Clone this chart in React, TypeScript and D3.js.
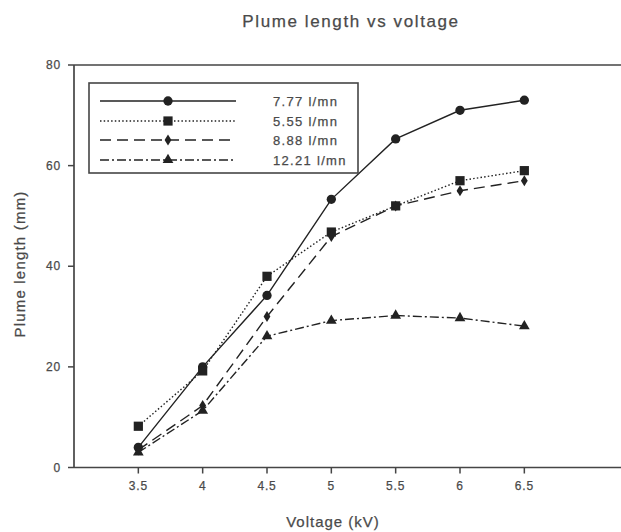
import React from "react";
import * as d3 from "d3";

// Voltage (kV) on the x axis
const voltages = [3.5, 4, 4.5, 5, 5.5, 6, 6.5];

// Plume length (mm) for each gas flow rate
const flow777 = [4, 20, 34.2, 53.3, 65.3, 71, 73];
const flow555 = [8.2, 19.2, 38, 46.8, 52, 57, 59];
const flow888 = [3.5, 12.3, 30, 45.9, 52, 55, 57];
const flow1221 = [3, 11.3, 26.1, 29.2, 30.2, 29.7, 28.1];

const seriesNames = ["7.77 l/mn", "5.55 l/mn", "8.88 l/mn", "12.21 l/mn"];
const xTicks = [3.5, 4, 4.5, 5, 5.5, 6, 6.5];
const yTicks = [0, 20, 40, 60, 80];

const W = 621;
const H = 532;

const x = d3.scaleLinear().domain([3, 7.5]).range([74, 653]);
const y = d3.scaleLinear().domain([0, 80]).range([467.5, 65]);

const AXIS = "#454545";
const TEXT = "#4a4a4a";
const INK = "#222";
const FONT = "'Liberation Sans', Arial, sans-serif";

type Marker = "circle" | "square" | "diamond" | "triangle";

const series: { name: string; values: number[]; dash: string; marker: Marker }[] = [
  { name: seriesNames[0], values: flow777, dash: "none", marker: "circle" },
  { name: seriesNames[1], values: flow555, dash: "1.5 2.2", marker: "square" },
  { name: seriesNames[2], values: flow888, dash: "11 6", marker: "diamond" },
  { name: seriesNames[3], values: flow1221, dash: "9 3 2 3", marker: "triangle" },
];

const symbolPath: Record<Marker, string> = {
  circle: d3.symbol(d3.symbolCircle, 68)()!,
  square: d3.symbol(d3.symbolSquare, 85)()!,
  diamond: "M0,-5.5L3.4,0L0,5.5L-3.4,0Z",
  triangle: d3.symbol(d3.symbolTriangle, 50)()!,
};

function MarkerShape({ kind, cx, cy }: { kind: Marker; cx: number; cy: number }) {
  return <path d={symbolPath[kind]} transform={`translate(${cx},${cy})`} fill={INK} />;
}

const textStyle = { stroke: TEXT, strokeWidth: 0.25 };

export default function App() {
  const line = d3
    .line<number>()
    .x((_, i) => x(voltages[i]))
    .y((v) => y(v));

  const legendRows = [101, 121, 140, 160];

  return (
    <div style={{ position: "fixed", left: 0, top: 0 }}>
      <svg width={W} height={H} style={{ display: "block", background: "#fff" }} fontFamily={FONT}>
        <text x={351} y={27} textAnchor="middle" fontSize={17} letterSpacing={1.6} fill={TEXT} style={textStyle}>
          Plume length vs voltage
        </text>

        {/* frame: left, bottom and top lines */}
        <line x1={x(3)} x2={x(3)} y1={y(80)} y2={y(0)} stroke={AXIS} strokeWidth={1.7} />
        <line x1={x(3)} x2={W} y1={y(0)} y2={y(0)} stroke={AXIS} strokeWidth={1.7} />
        <line x1={x(3)} x2={W} y1={y(80)} y2={y(80)} stroke={AXIS} strokeWidth={1.7} />

        {yTicks.map((t) => (
          <g key={t}>
            <line x1={x(3) - 6} x2={x(3)} y1={y(t)} y2={y(t)} stroke={AXIS} strokeWidth={1.5} />
            <text x={x(3) - 13} y={y(t)} dy="0.35em" textAnchor="end" fontSize={12} letterSpacing={0.8} fill={TEXT} style={textStyle}>
              {t}
            </text>
          </g>
        ))}

        {xTicks.map((t) => (
          <g key={t}>
            <line x1={x(t)} x2={x(t)} y1={y(0)} y2={y(0) + 6} stroke={AXIS} strokeWidth={1.5} />
            <text x={x(t)} y={y(0) + 22} textAnchor="middle" fontSize={12} letterSpacing={0.8} fill={TEXT} style={textStyle}>
              {t}
            </text>
          </g>
        ))}

        <text x={333} y={527} textAnchor="middle" fontSize={15} letterSpacing={1} fill={TEXT} style={textStyle}>
          Voltage (kV)
        </text>
        <text
          transform={`translate(25,264) rotate(-90)`}
          textAnchor="middle"
          fontSize={15}
          letterSpacing={1.2}
          fill={TEXT}
          style={textStyle}
        >
          Plume length (mm)
        </text>

        {series.map((s) => (
          <g key={s.name}>
            <path
              d={line(s.values)!}
              fill="none"
              stroke={INK}
              strokeWidth={1.4}
              strokeDasharray={s.dash}
            />
            {s.values.map((v, i) => (
              <MarkerShape key={i} kind={s.marker} cx={x(voltages[i])} cy={y(v)} />
            ))}
          </g>
        ))}

        {/* legend */}
        <rect x={89} y={83} width={269} height={90} fill="#fff" stroke={AXIS} strokeWidth={1.6} />
        {series.map((s, i) => (
          <g key={s.name}>
            <line
              x1={100}
              x2={236}
              y1={legendRows[i]}
              y2={legendRows[i]}
              stroke={INK}
              strokeWidth={1.4}
              strokeDasharray={s.dash}
            />
            <MarkerShape kind={s.marker} cx={168} cy={legendRows[i]} />
            <text x={273} y={legendRows[i]} dy="0.35em" fontSize={13} letterSpacing={1.3} fill={TEXT} style={textStyle}>
              {s.name}
            </text>
          </g>
        ))}
      </svg>
    </div>
  );
}
